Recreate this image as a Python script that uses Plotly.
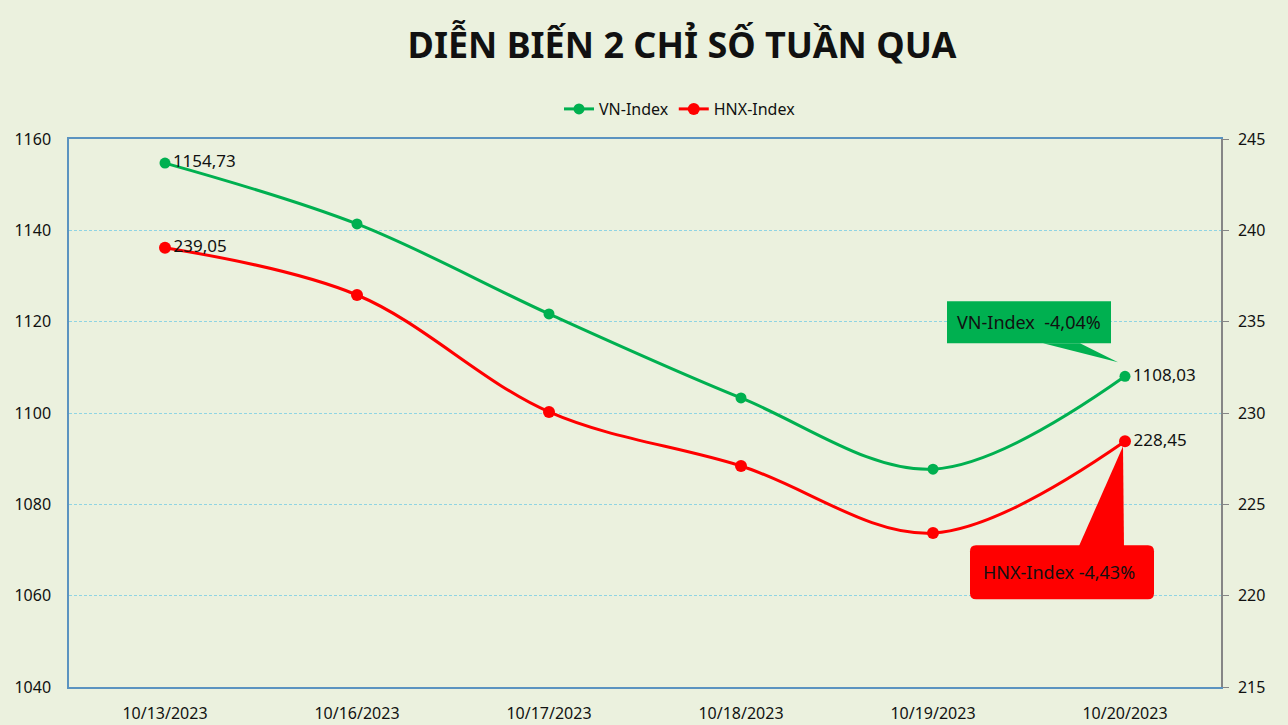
import plotly.graph_objects as go

dates = ["10/13/2023", "10/16/2023", "10/17/2023", "10/18/2023", "10/19/2023", "10/20/2023"]
vn_index = [1154.73, 1141.4, 1121.7, 1103.3, 1087.7, 1108.03]
hnx_index = [239.05, 236.46, 230.06, 227.10, 223.43, 228.45]
vn_change = "-4,04%"
hnx_change = "-4,43%"

left_range = [1040, 1160]
right_range = [215, 245]

BG = "#EBF1DE"
GREEN = "#00B050"
RED = "#FF0000"
FONT = "Noto Sans"

W, H = 1288, 725
ML, MR, MT, MB = 69, 67, 139, 38
PW, PH = W - ML - MR, H - MT - MB


def lab(vals):
    out = []
    for i, v in enumerate(vals):
        out.append(f"{v:.2f}".replace(".", ",") if i in (0, len(vals) - 1) else "")
    return out


fig = go.Figure()
fig.add_trace(go.Scatter(
    x=dates, y=vn_index, name="VN-Index", mode="lines+markers+text",
    line=dict(color=GREEN, width=3, shape="spline"),
    marker=dict(size=11, color=GREEN),
    text=lab(vn_index), textposition="middle right",
    textfont=dict(size=17, color="#111111", family=FONT),
    yaxis="y"))
fig.add_trace(go.Scatter(
    x=dates, y=hnx_index, name="HNX-Index", mode="lines+markers+text",
    line=dict(color=RED, width=3, shape="spline"),
    marker=dict(size=12, color=RED),
    text=lab(hnx_index), textposition="middle right",
    textfont=dict(size=17, color="#111111", family=FONT),
    yaxis="y2"))


# helpers: data -> paper fraction, pixel offsets -> paper fraction
def px_x(i):
    return (i + 0.5) / len(dates)


def py_left(v):
    return (v - left_range[0]) / (left_range[1] - left_range[0])


def py_right(v):
    return (v - right_range[0]) / (right_range[1] - right_range[0])


def dx(p):
    return p / PW


def dy(p):
    return -p / PH  # positive pixel = downward


last = len(dates) - 1

# VN callout
tipx, tipy = px_x(last) + dx(-7), py_left(vn_index[-1]) + dy(-14)
bx0, bx1 = px_x(last) + dx(-178), px_x(last) + dx(-14)
by1, by0 = py_left(vn_index[-1]) + dy(-75), py_left(vn_index[-1]) + dy(-33)
fig.add_shape(type="rect", xref="paper", yref="paper", x0=bx0, x1=bx1, y0=by0, y1=by1,
              fillcolor=GREEN, line=dict(width=0), layer="above")
wx0, wx1 = px_x(last) + dx(-82), px_x(last) + dx(-45)
fig.add_shape(type="path", xref="paper", yref="paper",
              path=f"M {wx0} {by0} L {wx1} {by0} L {tipx} {tipy} Z",
              fillcolor=GREEN, line=dict(width=0), layer="above")
fig.add_annotation(xref="paper", yref="paper", x=(bx0 + bx1) / 2, y=(by0 + by1) / 2,
                   xanchor="center", yanchor="middle",
                   text="VN-Index  " + vn_change, showarrow=False,
                   font=dict(size=18, color="#111111", family=FONT))

# HNX callout
hx = px_x(last)
hy = py_right(hnx_index[-1])
r = 6
cx0, cx1 = hx + dx(-155), hx + dx(29)
cyt, cyb = hy + dy(104), hy + dy(158)
rx, ry = dx(r), -dy(r)
path = (f"M {cx0+rx} {cyt} L {cx1-rx} {cyt} Q {cx1} {cyt} {cx1} {cyt-ry} "
        f"L {cx1} {cyb+ry} Q {cx1} {cyb} {cx1-rx} {cyb} "
        f"L {cx0+rx} {cyb} Q {cx0} {cyb} {cx0} {cyb+ry} "
        f"L {cx0} {cyt-ry} Q {cx0} {cyt} {cx0+rx} {cyt} Z")
fig.add_shape(type="path", xref="paper", yref="paper", path=path,
              fillcolor=RED, line=dict(width=0), layer="above")
fig.add_shape(type="path", xref="paper", yref="paper",
              path=f"M {hx+dx(-47)} {cyt-ry*0.5} L {hx+dx(-1)} {cyt-ry*0.5} L {hx+dx(-2)} {hy+dy(5)} Z",
              fillcolor=RED, line=dict(width=0), layer="above")
fig.add_annotation(xref="paper", yref="paper", x=(cx0 + cx1) / 2 - dx(3), y=(cyt + cyb) / 2,
                   xanchor="center", yanchor="middle",
                   text="HNX-Index " + hnx_change, showarrow=False,
                   font=dict(size=18, color="#111111", family=FONT))

fig.update_layout(
    width=W, height=H,
    margin=dict(l=ML, r=MR, t=MT, b=MB, autoexpand=False),
    paper_bgcolor=BG, plot_bgcolor=BG,
    font=dict(family=FONT, size=16, color="#111111"),
    title=dict(text="<b>DIỄN BIẾN 2 CHỈ SỐ TUẦN QUA</b>", x=682 / W, xanchor="center",
               y=1 - 45 / H, yanchor="middle",
               font=dict(size=36, color="#111111", family=FONT)),
    showlegend=True,
    legend=dict(orientation="h", x=(680 - ML) / PW, xanchor="center",
                y=(H - MB - 109) / PH, yanchor="middle",
                font=dict(size=16, color="#111111"), bgcolor="rgba(0,0,0,0)"),
    xaxis=dict(type="category", range=[-0.5, len(dates) - 0.5], showgrid=False,
               showline=True, linecolor="#5B93C0", mirror=True,
               linewidth=1.5, ticks="", tickfont=dict(size=16),
               ticklabelstandoff=11),
    yaxis=dict(range=left_range, dtick=20, showgrid=True, gridcolor="#8FD4E3",
               griddash="3px,2px", gridwidth=1, showline=True, linecolor="#5B93C0",
               linewidth=1.5, ticks="", zeroline=False, tickfont=dict(size=16),
               ticklabelstandoff=13),
    yaxis2=dict(range=right_range, dtick=5, overlaying="y", side="right",
                showgrid=False, showline=True, linecolor="#868686", linewidth=1.5,
                ticks="outside", ticklen=6, tickcolor="#868686", zeroline=False,
                tickfont=dict(size=16), ticklabelstandoff=6),
)

fig.write_html("out.html", config={"displayModeBar": False},
               post_script="document.body.style.margin='0';")
